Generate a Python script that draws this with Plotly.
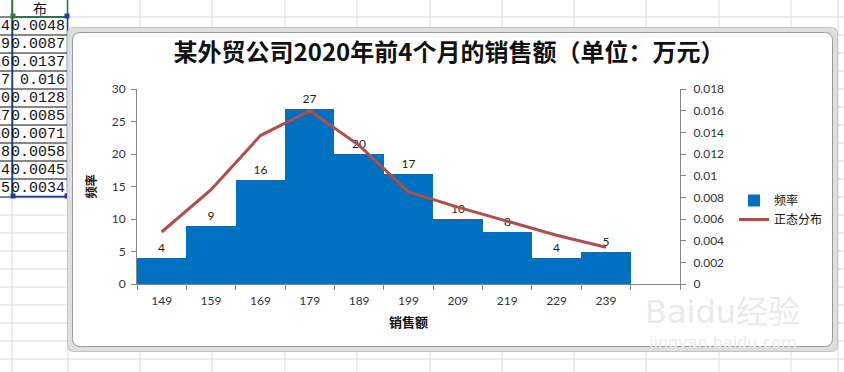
import plotly.graph_objects as go

# ---------------- data ----------------
categories = ["149", "159", "169", "179", "189", "199", "209", "219", "229", "239"]
frequency = [4, 9, 16, 27, 20, 17, 10, 8, 4, 5]
normal_dist = [0.0048, 0.0087, 0.0137, 0.016, 0.0128, 0.0085, 0.0071, 0.0058, 0.0045, 0.0034]
normal_dist_cells = ["0.0048", "0.0087", "0.0137", "0.016", "0.0128", "0.0085", "0.0071", "0.0058", "0.0045", "0.0034"]
left_ticks = [0, 5, 10, 15, 20, 25, 30]
right_ticks = [0, 0.002, 0.004, 0.006, 0.008, 0.01, 0.012, 0.014, 0.016, 0.018]
right_tick_labels = ["0", "0.002", "0.004", "0.006", "0.008", "0.01", "0.012", "0.014", "0.016", "0.018"]

title_text = "某外贸公司2020年前4个月的销售额（单位：万元）"
x_title = "销售额"
y_title = "频率"
bar_name = "频率"
line_name = "正态分布"

# ---------------- layout helpers ----------------
W, H = 844, 372
L, R, T, B = 137, 680, 89, 284  # plot area in pixels


def px(x):
    return (x - L) / (R - L)


def py(y):
    return (B - y) / (B - T)


n_slots = len(categories) + 1
idx = list(range(len(categories)))
boundaries = [i - 0.5 for i in range(n_slots + 1)]

BLUE = "#0070C0"
RED = "#B04E4B"
AXIS = "#868686"
NUMFONT = "Lato, 'Noto Sans CJK SC', sans-serif"
CJK = "'Noto Sans CJK SC', sans-serif"

fig = go.Figure()
fig.add_trace(go.Bar(
    x=idx, y=frequency, name=bar_name, width=1.0,
    marker=dict(color=BLUE, line=dict(width=0)),
    text=[str(v) for v in frequency], textposition="outside",
    textfont=dict(family=NUMFONT, size=12, color="#222222"),
    cliponaxis=False,
))
fig.add_trace(go.Scatter(
    x=idx, y=normal_dist, name=line_name, yaxis="y2", mode="lines",
    line=dict(color=RED, width=3),
))

shapes = []
annotations = []

# spreadsheet grid lines (background)
GRID = "#D9D9D9"
col_lines = [12, 68, 140, 212, 285, 357, 430, 502, 574, 646, 719, 791, 838]
row_lines = [17 + 18 * k for k in range(20)]
for x in col_lines:
    shapes.append(dict(type="line", xref="paper", yref="paper", x0=px(x), x1=px(x),
                       y0=py(0), y1=py(H), line=dict(color=GRID, width=1), layer="below"))
for y in row_lines:
    shapes.append(dict(type="line", xref="paper", yref="paper", x0=px(0), x1=px(W),
                       y0=py(y), y1=py(y), line=dict(color=GRID, width=1), layer="below"))

# table borders on the left
table_rows = [17 + 18 * k for k in range(11)]
for y in table_rows:
    shapes.append(dict(type="line", xref="paper", yref="paper", x0=px(0), x1=px(68),
                       y0=py(y), y1=py(y), line=dict(color="#222222", width=1), layer="below"))
shapes.append(dict(type="line", xref="paper", yref="paper", x0=px(12), x1=px(12),
                   y0=py(0), y1=py(197), line=dict(color="#222222", width=1), layer="below"))
# selection boxes
shapes.append(dict(type="rect", xref="paper", yref="paper", x0=px(12.5), x1=px(67.5),
                   y0=py(17), y1=py(196.5), line=dict(color="#1F3FA0", width=1.5), layer="below"))
shapes.append(dict(type="rect", xref="paper", yref="paper", x0=px(12.5), x1=px(67.5),
                   y0=py(-2), y1=py(17), line=dict(color="#2E7D32", width=1.5), layer="below"))
for (hx, hy, c) in [(13, 16, "#2E7D32"), (67, 16, "#1F3FA0"), (13, 196, "#1F3FA0"), (67, 196, "#1F3FA0")]:
    shapes.append(dict(type="rect", xref="paper", yref="paper", x0=px(hx - 2.5), x1=px(hx + 2.5),
                       y0=py(hy - 2.5), y1=py(hy + 2.5), fillcolor=c, line=dict(width=0), layer="below"))

# table cell texts
for k, (f, v) in enumerate(zip(frequency, normal_dist_cells)):
    yc = 17 + 18 * k + 9.5
    annotations.append(dict(xref="paper", yref="paper", x=px(11.5), y=py(yc), text=str(f),
                            xanchor="right", yanchor="middle", showarrow=False,
                            font=dict(family="'Liberation Mono', monospace", size=15, color="#111111")))
    annotations.append(dict(xref="paper", yref="paper", x=px(67), y=py(yc), text=v,
                            xanchor="right", yanchor="middle", showarrow=False,
                            font=dict(family="'Liberation Mono', monospace", size=15, color="#111111")))
annotations.append(dict(xref="paper", yref="paper", x=px(40), y=py(8), text="布",
                        xanchor="center", yanchor="middle", showarrow=False,
                        font=dict(family=CJK, size=14, color="#111111")))


def rounded_path(x0, y0, x1, y1, r):
    pts = [
        f"M {px(x0 + r)} {py(y0)}",
        f"L {px(x1 - r)} {py(y0)}",
        f"Q {px(x1)} {py(y0)} {px(x1)} {py(y0 + r)}",
        f"L {px(x1)} {py(y1 - r)}",
        f"Q {px(x1)} {py(y1)} {px(x1 - r)} {py(y1)}",
        f"L {px(x0 + r)} {py(y1)}",
        f"Q {px(x0)} {py(y1)} {px(x0)} {py(y1 - r)}",
        f"L {px(x0)} {py(y0 + r)}",
        f"Q {px(x0)} {py(y0)} {px(x0 + r)} {py(y0)}",
        "Z",
    ]
    return " ".join(pts)


# chart frame
shapes.append(dict(type="path", xref="paper", yref="paper", path=rounded_path(67.5, 27.5, 837.5, 351.5, 6),
                   fillcolor="#DEDEDE", line=dict(color="#C4C4C4", width=1), layer="below"))
shapes.append(dict(type="path", xref="paper", yref="paper", path=rounded_path(72.5, 32.5, 832.5, 346.5, 8),
                   fillcolor="#FFFFFF", line=dict(color="#9A9A9A", width=1), layer="below"))

# watermark
annotations.append(dict(xref="paper", yref="paper", x=px(722), y=py(312), text="Baidu经验",
                        xanchor="center", yanchor="middle", showarrow=False,
                        font=dict(family="'DejaVu Sans', 'Noto Sans CJK SC'", size=32, color="#EAEAEA")))
annotations.append(dict(xref="paper", yref="paper", x=px(722), y=py(342), text="jingyan.baidu.com",
                        xanchor="center", yanchor="middle", showarrow=False,
                        font=dict(family="'DejaVu Sans'", size=16, color="#EBEBEB")))

fig.update_layout(
    width=W, height=H,
    margin=dict(l=L, r=W - R, t=T, b=H - B, pad=0),
    paper_bgcolor="#FFFFFF", plot_bgcolor="rgba(0,0,0,0)",
    bargap=0,
    title=dict(text="<b>" + title_text + "</b>", x=449 / W, xanchor="center", xref="container",
               y=1 - 53 / H, yanchor="middle", yref="container",
               font=dict(family=CJK, size=24, color="#111111")),
    xaxis=dict(
        range=[-0.5, n_slots - 0.5], tickmode="array", tickvals=idx, ticktext=categories,
        ticks="", showline=True, linecolor=AXIS, linewidth=1, showgrid=False, zeroline=False,
        tickfont=dict(family=NUMFONT, size=12, color="#333333"),
        ticklabelstandoff=6,
        minor=dict(tickmode="array", tickvals=boundaries, ticks="outside", ticklen=5,
                   tickcolor=AXIS, tickwidth=1, showgrid=False),
        title=dict(text="<b>" + x_title + "</b>", standoff=10,
                   font=dict(family=CJK, size=13, color="#111111")),
        fixedrange=True,
    ),
    yaxis=dict(
        range=[0, 30], tickmode="array", tickvals=left_ticks, ticks="outside", ticklen=5,
        tickcolor=AXIS, showline=True, linecolor=AXIS, linewidth=1, showgrid=False, zeroline=False,
        tickfont=dict(family=NUMFONT, size=12, color="#333333"),
        ticklabelstandoff=3,
        title=dict(text="<b>" + y_title + "</b>", standoff=12,
                   font=dict(family=CJK, size=12, color="#111111")),
    ),
    yaxis2=dict(
        range=[0, 0.018], overlaying="y", side="right", tickmode="array",
        tickvals=right_ticks, ticktext=right_tick_labels, ticks="outside", ticklen=5,
        tickcolor=AXIS, showline=True, linecolor=AXIS, linewidth=1, showgrid=False, zeroline=False,
        tickfont=dict(family=NUMFONT, size=12, color="#333333"),
        ticklabelstandoff=5,
    ),
    legend=dict(x=px(734), y=py(210), xanchor="left", yanchor="middle",
                bgcolor="rgba(0,0,0,0)", font=dict(family=CJK, size=12, color="#111111"),
                itemwidth=30, tracegroupgap=4),
    showlegend=True,
    shapes=shapes,
    annotations=annotations,
)

fig.write_html(
    "out.html",
    config={"displayModeBar": False},
    post_script="document.body.style.margin='0';document.body.style.overflow='hidden';",
)
